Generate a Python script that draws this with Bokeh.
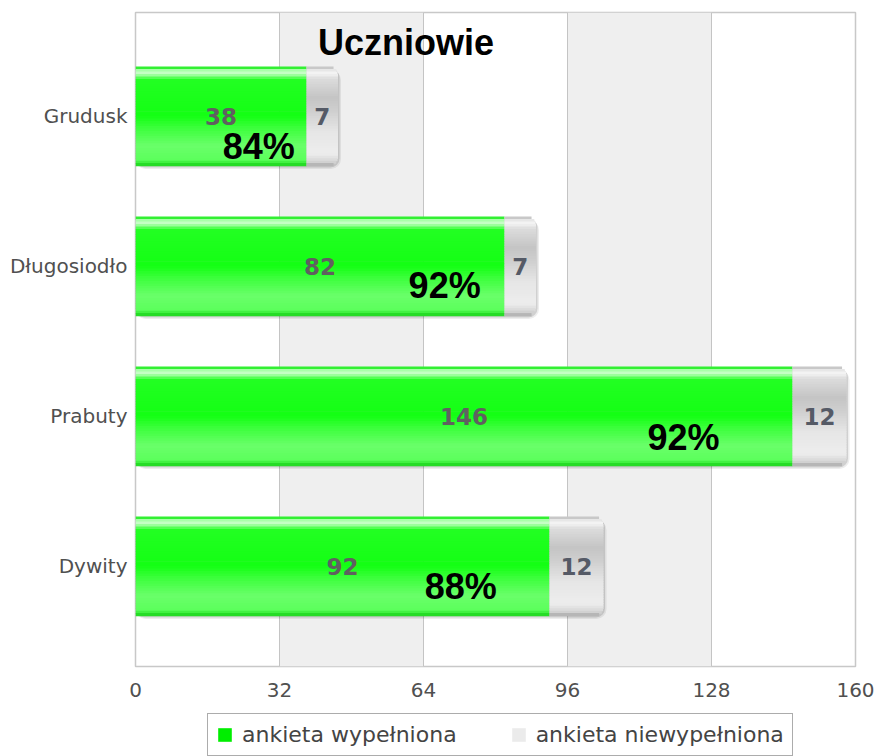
from bokeh.plotting import figure
from bokeh.models import Range1d, FixedTicker, ColumnDataSource, Label, Legend, LegendItem
from bokeh.layouts import column
from bokeh.transform import dodge
from bokeh.core.properties import value
from bokeh.embed import file_html
from bokeh.resources import INLINE

# ---------------- data ----------------
categories = ["Grudusk", "Długosiodło", "Prabuty", "Dywity"]
completed = [38, 82, 146, 92]
not_completed = [7, 7, 12, 12]
x_ticks = [0, 32, 64, 96, 128, 160]
series_names = ["ankieta wypełniona", "ankieta niewypełniona"]
title_text = "Uczniowie"

# label anchors for the percentage labels (data x, pixel drop below bar centre)
pct_label_x = [27.4, 68.7, 121.8, 72.3]
pct_label_drop_px = [30, 19, 21.5, 20]

# ---------------- geometry / style ----------------
FRAME_W, FRAME_H = 720, 654
X0, X1 = 0, 160
Y0, Y1 = -0.667, 3.693
PX_X = FRAME_W / (X1 - X0)
PX_Y = FRAME_H / (Y1 - Y0)
BAR_H = 0.66
RADIUS = 9

n = len(categories)
ypos = [n - 1 - i for i in range(n)]
total = [c + r for c, r in zip(completed, not_completed)]
src = ColumnDataSource(dict(
    y=ypos,
    done=completed,
    rest=not_completed,
    total=total,
    mid_done=[c / 2 for c in completed],
    mid_rest=[c + r / 2 for c, r in zip(completed, not_completed)],
    done_txt=[str(c) for c in completed],
    rest_txt=[str(r) for r in not_completed],
    pct=[f"{round(100 * c / t)}%" for c, t in zip(completed, total)],
    pct_x=pct_label_x,
    pct_y=[y - d / PX_Y for y, d in zip(ypos, pct_label_drop_px)],
))

p = figure(frame_width=FRAME_W, frame_height=FRAME_H,
           x_range=Range1d(X0, X1), y_range=Range1d(Y0, Y1),
           output_backend="svg", toolbar_location=None,
           min_border_left=135, min_border_right=26, min_border_top=12, min_border_bottom=34,
           background_fill_color="white", border_fill_color="white")
p.outline_line_color = "#c8c8c8"
p.outline_line_width = 1.5

# grid + alternating bands
p.xaxis.ticker = FixedTicker(ticks=x_ticks)
p.xgrid.grid_line_color = "#c4c4c4"
p.xgrid.band_fill_color = "#efefef"
p.xgrid.band_fill_alpha = 1
p.ygrid.grid_line_color = None

# axes
for ax in (p.xaxis[0], p.yaxis[0]):
    ax.axis_line_color = None
    ax.major_tick_line_color = None
    ax.minor_tick_line_color = None
    ax.major_label_text_font = "DejaVu Sans"
    ax.major_label_text_color = "#505050"
p.xaxis.major_label_text_font_size = "20px"
p.xaxis.major_label_standoff = 10
p.yaxis.ticker = FixedTicker(ticks=ypos)
p.yaxis.major_label_overrides = {y: c for y, c in zip(ypos, categories)}
p.yaxis.major_label_text_font_size = "20px"
p.yaxis.major_label_standoff = 2


def interp(stops, f):
    for (f0, c0), (f1, c1) in zip(stops, stops[1:]):
        if f0 <= f <= f1:
            t = (f - f0) / (f1 - f0) if f1 > f0 else 0
            a = [int(c0[i:i + 2], 16) for i in (1, 3, 5)]
            b = [int(c1[i:i + 2], 16) for i in (1, 3, 5)]
            return "#%02x%02x%02x" % tuple(round(u + (v - u) * t) for u, v in zip(a, b))
    return stops[-1][1]


green_stops = [(0.0, "#22d822"), (0.02, "#3cff3c"), (0.045, "#d8ffd8"), (0.08, "#b0ffb0"),
               (0.13, "#22ff22"), (0.5, "#14ff14"), (0.62, "#3cff3c"), (0.8, "#6aff6a"),
               (0.94, "#5cff5c"), (0.98, "#2ee82e"), (1.0, "#18c818")]
gray_stops = [(0.0, "#b4b4b4"), (0.03, "#e4e4e4"), (0.07, "#f6f6f6"), (0.12, "#dcdcdc"),
              (0.32, "#c4c4c4"), (0.46, "#d0d0d0"), (0.66, "#e6e6e6"), (0.88, "#ededed"),
              (0.96, "#d4d4d4"), (1.0, "#a8a8a8")]

# soft drop shadow
p.hbar(y=dodge("y", -3 / PX_Y), left=0, right=dodge("total", 3 / PX_X), height=BAR_H,
       fill_color="black", fill_alpha=0.07, line_color=None, border_radius=RADIUS + 1, source=src)
p.hbar(y=dodge("y", -1.5 / PX_Y), left=0, right=dodge("total", 1.5 / PX_X), height=BAR_H,
       fill_color="black", fill_alpha=0.12, line_color=None, border_radius=RADIUS, source=src)

NS = 40
bar_px = BAR_H * PX_Y
for k in range(NS):
    fc = (k + 0.5) / NS
    off = BAR_H * (0.5 - fc)
    h = BAR_H / NS * 1.3
    # green (completed)
    p.hbar(y=dodge("y", off), left=0, right="done", height=h,
           fill_color=interp(green_stops, fc), line_color=None, source=src)
    # gray (not completed) with rounded right end
    d = min(fc, 1 - fc) * bar_px
    inset = 0.0
    if d < RADIUS:
        inset = RADIUS - (RADIUS ** 2 - (RADIUS - d) ** 2) ** 0.5
    p.hbar(y=dodge("y", off), left="done", right=dodge("total", -inset / PX_X), height=h,
           fill_color=interp(gray_stops, fc), line_color=None, source=src)

# value labels
p.text(x="mid_done", y="y", text="done_txt", source=src,
       text_font=value("DejaVu Sans"), text_font_style="bold", text_font_size="23px",
       text_color="#606060", text_align="center", text_baseline="middle")
p.text(x="mid_rest", y="y", text="rest_txt", source=src,
       text_font=value("DejaVu Sans"), text_font_style="bold", text_font_size="23px",
       text_color="#555a66", text_align="center", text_baseline="middle")
p.text(x="pct_x", y="pct_y", text="pct", source=src,
       text_font=value("Liberation Sans"), text_font_style="bold", text_font_size="36px",
       text_color="black", text_align="center", text_baseline="middle")

# title inside plot area
p.add_layout(Label(x=60.1, y=3.49, text=title_text, text_font="Liberation Sans",
                   text_font_style="bold", text_font_size="36px", text_color="black",
                   text_align="center", text_baseline="middle"))

# ---------------- legend strip below the chart ----------------
lf = figure(width=881, height=56, x_range=Range1d(0, 1), y_range=Range1d(0, 1),
            output_backend="svg", toolbar_location=None,
            x_axis_type=None, y_axis_type=None,
            min_border=0, min_border_left=0, min_border_right=0,
            min_border_top=0, min_border_bottom=0,
            background_fill_color="white", border_fill_color="white")
lf.outline_line_color = None
lf.grid.visible = False
# hidden proxies that only supply the legend swatches
leg_g = lf.hbar(y="y", left=0, right="done", height=0.5, source=src,
                fill_color="#00ee00", line_color=None, visible=False)
leg_r = lf.hbar(y="y", left="done", right="total", height=0.5, source=src,
                fill_color="#ebebeb", line_color=None, visible=False)
legend = Legend(items=[LegendItem(label=series_names[0], renderers=[leg_g]),
                       LegendItem(label=series_names[1], renderers=[leg_r])],
                orientation="horizontal", location=(72, 0),
                glyph_width=17, glyph_height=17, label_standoff=9, spacing=53,
                padding=8, margin=0,
                border_line_color="#5a5a5a", border_line_width=1.5,
                background_fill_color="white", background_fill_alpha=1,
                label_text_font="DejaVu Sans", label_text_font_size="22px",
                label_text_color="#444444")
lf.add_layout(legend, "center")

layout = column(p, lf, spacing=0)
open("out.html", "w").write(file_html(layout, INLINE))
